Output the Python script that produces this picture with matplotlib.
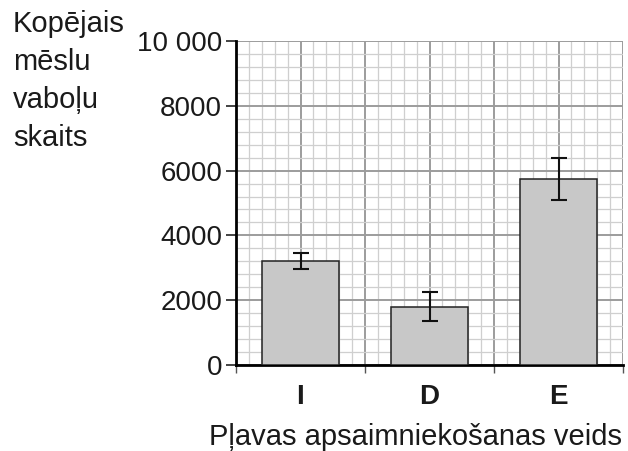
import matplotlib
matplotlib.use("Agg")
import matplotlib.pyplot as plt
import numpy as np
from matplotlib.ticker import MultipleLocator

# data
categories = ["I", "D", "E"]
beetle_counts = [3200, 1800, 5750]
errors = [250, 450, 650]
ytick_values = [0, 2000, 4000, 6000, 8000, 10000]
ytick_labels = ["0", "2000", "4000", "6000", "8000", "10 000"]

plt.rcParams["font.family"] = ["Liberation Sans", "DejaVu Sans"]

fig = plt.figure(figsize=(6.28, 4.51), dpi=100)
ax = fig.add_axes([236 / 628, 1 - 365 / 451, (623 - 236) / 628, (365 - 41) / 451])

pos = np.arange(len(categories))
ax.bar(pos, beetle_counts, width=0.6, color="#c8c8c8", edgecolor="#222222",
       linewidth=1.1, zorder=3)
ax.errorbar(pos, beetle_counts, yerr=errors, fmt="none", ecolor="#111111",
            elinewidth=1.5, capsize=6, capthick=1.5, zorder=4)

ax.set_xlim(-0.5, len(categories) - 0.5)
ax.set_ylim(0, 10000)

# grid: minor every 400 / 0.1 category, major every 2000 / half category
ax.yaxis.set_minor_locator(MultipleLocator(400))
ax.set_xticks(np.arange(-0.5, len(categories) - 0.49, 0.1), minor=True)
ax.set_xticks(np.arange(-0.5, len(categories) - 0.49, 0.5))
xlabels = []
for i in range(2 * len(categories) + 1):
    xlabels.append(categories[(i - 1) // 2] if i % 2 == 1 else "")
ax.set_xticklabels(xlabels, fontsize=20, fontweight="bold", color="#1a1a1a")
for t in ax.xaxis.get_major_ticks()[1::2]:
    t.tick1line.set_visible(False)

ax.set_yticks(ytick_values)
ax.set_yticklabels(ytick_labels, fontsize=20, color="#1a1a1a")

ax.grid(which="minor", color="#cfcfcf", linewidth=0.9, zorder=0)
ax.grid(which="major", color="#9c9c9c", linewidth=1.4, zorder=1)
ax.set_axisbelow(True)

ax.tick_params(axis="y", which="major", length=7, width=1.2, pad=3, color="#222222")
ax.tick_params(axis="x", which="major", length=6, width=1.0, pad=8, color="#555555")
ax.tick_params(which="minor", length=0)

for side in ["top", "right"]:
    ax.spines[side].set_visible(False)
ax.spines["left"].set_linewidth(2.0)
ax.spines["bottom"].set_linewidth(2.0)

fig.text(13 / 628, 1 - 10 / 451, "Kopējais\nmēslu\nvaboļu\nskaits", fontsize=21,
         ha="left", va="top", linespacing=1.45, color="#1a1a1a")
fig.text(622 / 628, 1 - 437 / 451, "Pļavas apsaimniekošanas veids", fontsize=21,
         ha="right", va="center", color="#1a1a1a")

fig.savefig("out.png", dpi=100)
